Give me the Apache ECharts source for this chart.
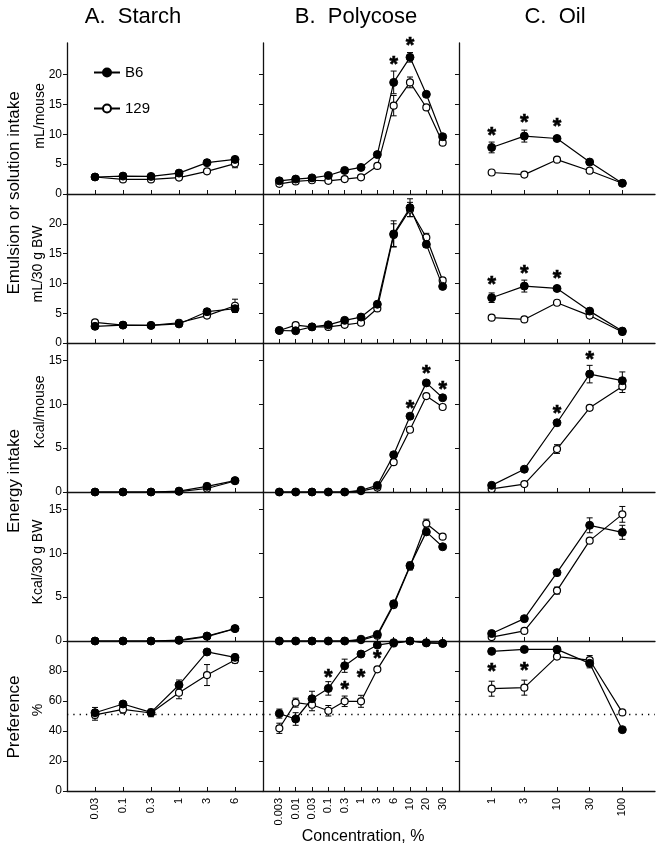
<!DOCTYPE html>
<html><head><meta charset="utf-8">
<script src="https://cdn.jsdelivr.net/npm/echarts@6/dist/echarts.min.js"></script>
<style>html,body{margin:0;padding:0;background:#fff}#c{width:662px;height:849px}</style>
</head><body><div id="c"></div><script>
// ---- tick labels (concentration, %) ----
const starchConc = ['0.03','0.1','0.3','1','3','6'];
const polycoseConc = ['0.003','0.01','0.03','0.1','0.3','1','3','6','10','20','30'];
const oilConc = ['1','3','10','30','100'];

// ---- Row 1: intake mL/mouse ----
const starchMlMouseB6  = [2.85, 3.0, 2.95, 3.5, 5.25, 5.8];
const starchMlMouse129 = [2.85, 2.45, 2.45, 2.75, 3.8, 5.1];
const starchMlMouseB6Err  = [0, 0, 0, 0, 0.3, 0.4];
const starchMlMouse129Err = [0, 0, 0, 0, 0.3, 0.7];
const polyMlMouseB6  = [2.2, 2.5, 2.7, 3.1, 3.95, 4.45, 6.6, 18.7, 22.9, 16.7, 9.6];
const polyMlMouse129 = [1.7, 2.1, 2.3, 2.2, 2.5, 2.8, 4.7, 14.8, 18.7, 14.5, 8.6];
const polyMlMouseB6Err  = [0, 0, 0, 0, 0, 0, 0.3, 1.9, 0.8, 0, 0];
const polyMlMouse129Err = [0, 0, 0, 0, 0, 0, 0.3, 1.7, 0.9, 0, 0];
const oilMlMouseB6  = [7.8, 9.7, 9.3, 5.35, 1.8];
const oilMlMouse129 = [3.6, 3.25, 5.75, 3.9, 1.8];
const oilMlMouseB6Err  = [0.9, 1.0, 0, 0, 0];
const oilMlMouse129Err = [0, 0, 0, 0, 0];

// ---- Row 2: intake mL/30 g BW ----
const starchMlBwB6  = [2.8, 3.0, 2.95, 3.2, 5.25, 5.75];
const starchMlBw129 = [3.45, 3.0, 2.95, 3.4, 4.6, 6.25];
const starchMlBwB6Err  = [0, 0, 0, 0, 0.3, 0.6];
const starchMlBw129Err = [0, 0, 0, 0, 0, 1.1];
const polyMlBwB6  = [2.1, 2.05, 2.7, 3.05, 3.8, 4.35, 6.5, 18.3, 22.7, 16.55, 9.5];
const polyMlBw129 = [2.1, 3.0, 2.7, 2.7, 3.05, 3.4, 5.8, 18.1, 22.4, 17.7, 10.5];
const polyMlBwB6Err  = [0, 0, 0, 0, 0, 0, 0, 2.2, 1.5, 0.5, 0];
const polyMlBw129Err = [0, 0, 0, 0, 0, 0, 0, 1.9, 1.2, 0.7, 0];
const oilMlBwB6  = [7.6, 9.55, 9.15, 5.35, 2.0];
const oilMlBw129 = [4.25, 3.95, 6.75, 4.6, 1.85];
const oilMlBwB6Err  = [0.8, 1.0, 0, 0, 0.2];
const oilMlBw129Err = [0, 0, 0, 0, 0];

// ---- Row 3: energy Kcal/mouse ----
const starchKcalMouseB6  = [0, 0, 0, 0.1, 0.65, 1.3];
const starchKcalMouse129 = [0, 0, 0, 0.05, 0.4, 1.25];
const polyKcalMouseB6  = [0, 0, 0, 0, 0, 0.2, 0.75, 4.25, 8.65, 12.45, 10.75];
const polyKcalMouse129 = [0, 0, 0, 0, 0, 0.1, 0.5, 3.4, 7.1, 10.95, 9.7];
const oilKcalMouseB6  = [0.76, 2.6, 7.9, 13.45, 12.7];
const oilKcalMouse129 = [0.35, 0.9, 4.9, 9.6, 12.05];
const oilKcalMouseB6Err  = [0, 0, 0, 1.0, 1.0];
const oilKcalMouse129Err = [0, 0, 0.5, 0, 0.7];

// ---- Row 4: energy Kcal/30 g BW ----
const starchKcalBwB6  = [0, 0, 0, 0.1, 0.57, 1.42];
const starchKcalBw129 = [0, 0, 0, 0.05, 0.5, 1.4];
const polyKcalBwB6  = [0, 0, 0, 0, 0, 0.2, 0.75, 4.25, 8.6, 12.45, 10.75];
const polyKcalBw129 = [0, 0, 0, 0, 0, 0.1, 0.6, 4.1, 8.5, 13.4, 11.9];
const polyKcalBwB6Err  = [0, 0, 0, 0, 0, 0, 0, 0.3, 0.4, 0, 0];
const polyKcalBw129Err = [0, 0, 0, 0, 0, 0, 0, 0.3, 0.4, 0.5, 0];
const oilKcalBwB6  = [0.85, 2.55, 7.8, 13.2, 12.4];
const oilKcalBw129 = [0.45, 1.15, 5.75, 11.45, 14.45];
const oilKcalBwB6Err  = [0, 0, 0, 0.85, 0.8];
const oilKcalBw129Err = [0, 0, 0.4, 0, 0.9];

// ---- Row 5: preference % ----
const starchPrefB6  = [52.2, 58, 52.4, 70.7, 92.7, 89.1];
const starchPref129 = [50.7, 54.4, 52, 65.5, 77.3, 87.3];
const starchPrefB6Err  = [3.5, 0, 0, 3.3, 0, 0];
const starchPref129Err = [3.5, 2.5, 2.5, 4, 7, 2];
const polyPrefB6  = [51.6, 48, 61.5, 68.4, 83.5, 91.3, 97.3, 98.9, 100, 98.7, 98.4];
const polyPref129 = [41.8, 58.9, 57.5, 53.5, 59.8, 59.8, 81.1, 98.4, 100, 98.9, 98.4];
const polyPrefB6Err  = [3, 4.2, 5, 4.5, 4.4, 0, 0, 0, 0, 0, 0];
const polyPref129Err = [3.4, 3, 4, 3.5, 3.5, 4, 0, 0, 0, 0, 0];
const oilPrefB6  = [93.1, 94.4, 94.4, 85.1, 40.9];
const oilPref129 = [68.2, 68.9, 89.6, 87.3, 52.4];
const oilPrefB6Err  = [0, 0, 0, 3, 0];
const oilPref129Err = [5, 5, 0, 3, 0];
const prefChanceLevel = 51;

// ---- significance stars: [concentration index (1-based), height] ----
const polyMlMouseStars = [[8, 22.4], [9, 25.6]];
const oilMlMouseStars = [[1, 10.6], [2, 12.7], [3, 12.0]];
const oilMlBwStars = [[1, 10.6], [2, 12.5], [3, 11.6]];
const polyKcalMouseStars = [[9, 10.1], [10, 14.0], [11, 12.2]];
const oilKcalMouseStars = [[3, 9.5], [4, 15.6]];
const polyPrefStars = [[4, 79], [5, 71], [6, 79], [7, 91.3]];
const oilPrefStars = [[1, 82.9], [2, 83.3]];

// ---- y tick labels per row ----
const rowTickValues = [[0,5,10,15,20],[0,5,10,15,20],[0,5,10,15],[0,5,10,15],[0,20,40,60,80]];
const rowMax = [25.3, 25, 17, 17, 100];

// ---- layout ----
const colLeft = [67, 263, 459], colWidth = 196;
const rowTop = [43, 194, 343, 492, 641], rowHeight = [151, 149, 149, 149, 150];
const colConc = [starchConc, polycoseConc, oilConc];

const zeros = n => new Array(n).fill(0);
const panels = [
  [0,0,starchMlMouseB6,starchMlMouse129,starchMlMouseB6Err,starchMlMouse129Err,[]],
  [0,1,polyMlMouseB6,polyMlMouse129,polyMlMouseB6Err,polyMlMouse129Err,polyMlMouseStars],
  [0,2,oilMlMouseB6,oilMlMouse129,oilMlMouseB6Err,oilMlMouse129Err,oilMlMouseStars],
  [1,0,starchMlBwB6,starchMlBw129,starchMlBwB6Err,starchMlBw129Err,[]],
  [1,1,polyMlBwB6,polyMlBw129,polyMlBwB6Err,polyMlBw129Err,[]],
  [1,2,oilMlBwB6,oilMlBw129,oilMlBwB6Err,oilMlBw129Err,oilMlBwStars],
  [2,0,starchKcalMouseB6,starchKcalMouse129,zeros(6),zeros(6),[]],
  [2,1,polyKcalMouseB6,polyKcalMouse129,zeros(11),zeros(11),polyKcalMouseStars],
  [2,2,oilKcalMouseB6,oilKcalMouse129,oilKcalMouseB6Err,oilKcalMouse129Err,oilKcalMouseStars],
  [3,0,starchKcalBwB6,starchKcalBw129,zeros(6),zeros(6),[]],
  [3,1,polyKcalBwB6,polyKcalBw129,polyKcalBwB6Err,polyKcalBw129Err,[]],
  [3,2,oilKcalBwB6,oilKcalBw129,oilKcalBwB6Err,oilKcalBw129Err,[]],
  [4,0,starchPrefB6,starchPref129,starchPrefB6Err,starchPref129Err,[]],
  [4,1,polyPrefB6,polyPref129,polyPrefB6Err,polyPref129Err,polyPrefStars],
  [4,2,oilPrefB6,oilPref129,oilPrefB6Err,oilPref129Err,oilPrefStars]
];

const FONT = '"Liberation Sans", Arial, Helvetica, sans-serif';
const grid = [], xAxis = [], yAxis = [], series = [];

panels.forEach((p, g) => {
  const [r, c, b6, s129, e6, e129, stars] = p;
  const conc = colConc[c];
  const n = conc.length;
  grid.push({left: colLeft[c], top: rowTop[r], width: colWidth, height: rowHeight[r], containLabel: false});
  const idx = conc.map((_, i) => i + 1);
  xAxis.push({
    type: 'value', gridIndex: g, min: 0, max: n + 1,
    splitLine: {show: false},
    axisLine: {show: true, onZero: false, lineStyle: {color: '#111', width: 1.3}},
    axisTick: {show: true, inside: true, length: 4, customValues: idx, lineStyle: {color: '#111', width: 1}},
    axisLabel: {show: r === 4, customValues: idx, rotate: 90, margin: 7, fontSize: 11, color: '#000', fontFamily: FONT,
      formatter: v => conc[Math.round(v) - 1] || ''}
  });
  yAxis.push({
    type: 'value', gridIndex: g, min: 0, max: rowMax[r],
    splitLine: {show: false},
    axisLine: {show: true, lineStyle: {color: '#111', width: 1.3}},
    axisTick: {show: true, length: 4, customValues: rowTickValues[r], lineStyle: {color: '#111', width: 1}},
    axisLabel: {show: c === 0, customValues: rowTickValues[r], fontSize: 12, color: '#000', margin: 5, fontFamily: FONT}
  });

  // error bars
  const errData = [];
  b6.forEach((v, i) => { if (e6[i] > 0) errData.push([i + 1, v, e6[i]]); });
  s129.forEach((v, i) => { if (e129[i] > 0) errData.push([i + 1, v, e129[i]]); });
  series.push({
    type: 'custom', xAxisIndex: g, yAxisIndex: g, z: 2, silent: true,
    data: errData,
    renderItem: (params, api) => {
      const x = api.value(0), y = api.value(1), e = api.value(2);
      const t = api.coord([x, y + e]), b = api.coord([x, y - e]);
      const w = 3;
      const st = {stroke: '#000', lineWidth: 1};
      return {type: 'group', children: [
        {type: 'line', shape: {x1: t[0], y1: t[1], x2: b[0], y2: b[1]}, style: st},
        {type: 'line', shape: {x1: t[0] - w, y1: t[1], x2: t[0] + w, y2: t[1]}, style: st},
        {type: 'line', shape: {x1: b[0] - w, y1: b[1], x2: b[0] + w, y2: b[1]}, style: st}
      ]};
    }
  });

  series.push({
    type: 'line', name: '129', xAxisIndex: g, yAxisIndex: g, z: 3,
    data: s129.map((v, i) => [i + 1, v]),
    symbol: 'circle', symbolSize: 7, showAllSymbol: true,
    lineStyle: {color: '#000', width: 1.2},
    itemStyle: {color: '#fff', borderColor: '#000', borderWidth: 1.2}
  });
  series.push({
    type: 'line', name: 'B6', xAxisIndex: g, yAxisIndex: g, z: 4,
    data: b6.map((v, i) => [i + 1, v]),
    symbol: 'circle', symbolSize: 8, showAllSymbol: true,
    lineStyle: {color: '#000', width: 1.2},
    itemStyle: {color: '#000', borderColor: '#000', borderWidth: 1}
  });

  if (stars.length) {
    series.push({
      type: 'custom', xAxisIndex: g, yAxisIndex: g, z: 5, silent: true,
      data: stars,
      renderItem: (params, api) => {
        const pt = api.coord([api.value(0), api.value(1)]);
        return {type: 'text', x: pt[0], y: pt[1] + 5,
          style: {text: '*', font: 'bold 22px ' + FONT, fill: '#000', stroke: '#000', lineWidth: 0.6,
            textAlign: 'center', textVerticalAlign: 'middle'}};
      }
    });
  }

  if (r === 4) {
    series.push({
      type: 'line', xAxisIndex: g, yAxisIndex: g, data: [[0, prefChanceLevel], [n + 1, prefChanceLevel]],
      symbol: 'none', z: 1, silent: true,
      lineStyle: {color: '#000', width: 1.3, type: [1.3, 5]}
    });
  }
});

const txt = (text, x, y, size, rot, extra) => Object.assign({
  type: 'text', x: x, y: y, rotation: rot ? Math.PI / 2 : 0,
  style: {text: text, font: size + 'px ' + FONT, fill: '#000', textAlign: 'center', textVerticalAlign: 'middle'}
}, extra || {});

const option = {
  animation: false,
  backgroundColor: '#fff',
  grid, xAxis, yAxis, series,
  legend: {
    data: ['B6', '129'], orient: 'vertical', left: 88, top: 60,
    itemWidth: 26, itemHeight: 10, itemGap: 21,
    textStyle: {fontSize: 15, color: '#000', fontFamily: FONT}
  },
  graphic: [
    txt('A.  Starch', 133, 17, 22),
    txt('B.  Polycose', 356, 17, 22),
    txt('C.  Oil', 555, 17, 22),
    txt('Emulsion or solution intake', 14, 193, 17, true),
    txt('mL/mouse', 40, 116, 14, true),
    txt('mL/30 g BW', 38, 264, 14, true),
    txt('Energy intake', 14, 481, 17, true),
    txt('Kcal/mouse', 40, 412, 14, true),
    txt('Kcal/30 g BW', 38, 562, 14, true),
    txt('Preference', 14, 717, 17, true),
    txt('%', 38, 710, 14, true),
    txt('Concentration, %', 363, 837, 16)
  ]
};

const chart = echarts.init(document.getElementById('c'), null, {renderer: 'canvas'});
chart.setOption(option);
</script></body></html>
